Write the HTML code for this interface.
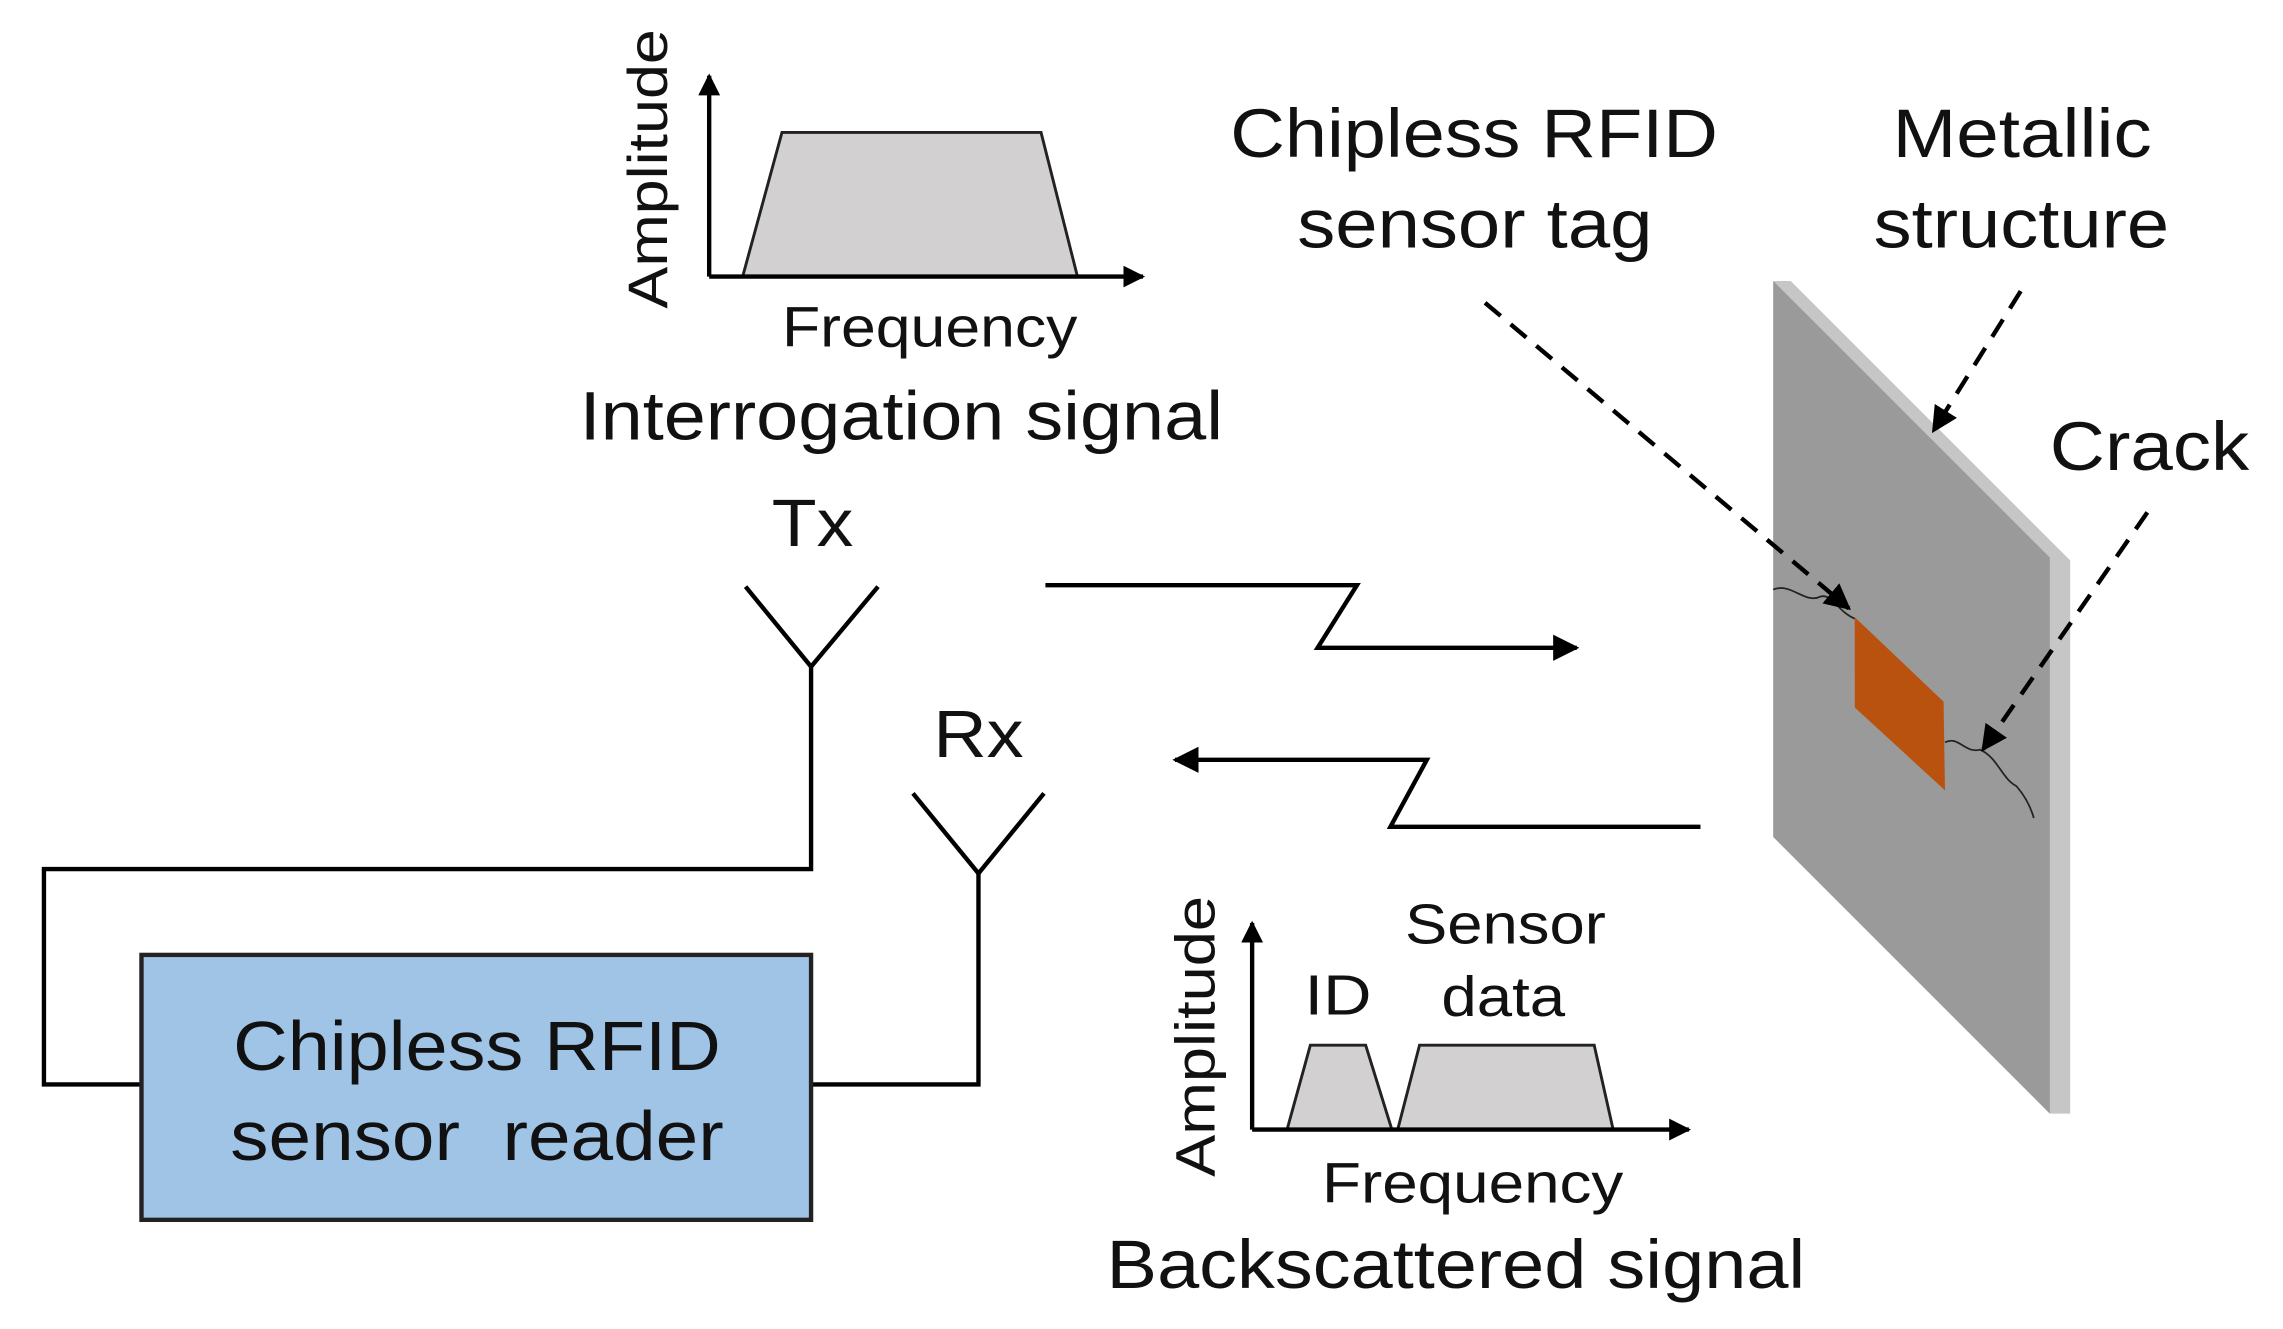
<!DOCTYPE html>
<html><head><meta charset="utf-8"><style>html,body{margin:0;padding:0;background:#fff}svg{display:block}text{font-family:"Liberation Sans",sans-serif;fill:#111}</style></head>
<body>
<svg width="2283" height="1329" viewBox="0 0 1568 913" xmlns="http://www.w3.org/2000/svg">
<defs>
<marker id="ah" viewBox="0 0 10 10" refX="9" refY="5" markerWidth="6" markerHeight="6" orient="auto"><path d="M0,0 L10,5 L0,10 z" fill="#000"/></marker>
<marker id="ah2" viewBox="0 0 10 10" refX="9" refY="5" markerWidth="5" markerHeight="5" orient="auto"><path d="M0,0 L10,5 L0,10 z" fill="#000"/></marker>
</defs>
<!-- top chart -->
<polygon points="510,190 537,91 715,91 740,190" fill="#d2d0d0" stroke="#222" stroke-width="2"/>
<line x1="487" y1="190" x2="487" y2="52" stroke="#000" stroke-width="3" marker-end="url(#ah2)"/>
<line x1="487" y1="190" x2="785" y2="190" stroke="#000" stroke-width="3" marker-end="url(#ah2)"/>
<text transform="translate(458,116) rotate(-90)" text-anchor="middle" font-size="38" textLength="192" lengthAdjust="spacingAndGlyphs">Amplitude</text>
<text x="537" y="238" font-size="39" textLength="203" lengthAdjust="spacingAndGlyphs">Frequency</text>
<text x="398" y="302" font-size="47" textLength="442" lengthAdjust="spacingAndGlyphs">Interrogation signal</text>
<text x="530" y="375" font-size="46" textLength="56" lengthAdjust="spacingAndGlyphs">Tx</text>
<!-- Tx antenna and wires -->
<polyline points="512,403 557,458 603,403" fill="none" stroke="#000" stroke-width="3"/>
<polyline points="557,458 557,597 30,597 30,745 97,745" fill="none" stroke="#000" stroke-width="3"/>
<text x="641" y="520" font-size="46" textLength="62" lengthAdjust="spacingAndGlyphs">Rx</text>
<polyline points="627,545 672,600 717,545" fill="none" stroke="#000" stroke-width="3"/>
<polyline points="672,600 672,745 557,745" fill="none" stroke="#000" stroke-width="3"/>
<!-- reader box -->
<rect x="97" y="656" width="460" height="182" fill="#a0c4e6" stroke="#222" stroke-width="3"/>
<text x="160" y="735" font-size="48" textLength="335" lengthAdjust="spacingAndGlyphs">Chipless RFID</text>
<text x="158" y="797" font-size="48" textLength="339" lengthAdjust="spacingAndGlyphs" xml:space="preserve">sensor  reader</text>
<!-- wireless arrows -->
<polyline points="718,402 932,402 905,445 1083,445" fill="none" stroke="#000" stroke-width="3" marker-end="url(#ah)"/>
<polyline points="1168,568 955,568 980,522 807,522" fill="none" stroke="#000" stroke-width="3" marker-end="url(#ah)"/>
<!-- plate -->
<polygon points="1218,193 1230,193 1422,385 1422,765 1408,765 1218,575" fill="#c6c6c6"/>
<polygon points="1218,193 1408,383 1408,765 1218,575" fill="#9a9a9a"/>
<path d="M1218,405 C1230,400 1240,415 1250,410 C1258,407 1262,420 1274,425" fill="none" stroke="#222" stroke-width="1.2"/>
<path d="M1336,510 C1345,505 1350,518 1360,515 C1372,520 1375,535 1385,540 C1392,548 1395,555 1397,562" fill="none" stroke="#222" stroke-width="1.2"/>
<polygon points="1274,424 1335,482 1336,543 1274,486" fill="#b9520f"/>
<!-- dashed pointers -->
<line x1="1020" y1="208" x2="1270" y2="418" stroke="#000" stroke-width="3" stroke-dasharray="14,9" marker-end="url(#ah)"/>
<line x1="1388" y1="200" x2="1328" y2="296" stroke="#000" stroke-width="3" stroke-dasharray="14,9" marker-end="url(#ah)"/>
<line x1="1475" y1="352" x2="1362" y2="515" stroke="#000" stroke-width="3" stroke-dasharray="14,9" marker-end="url(#ah)"/>
<text x="845" y="108" font-size="47" textLength="335" lengthAdjust="spacingAndGlyphs">Chipless RFID</text>
<text x="891" y="170" font-size="47" textLength="244" lengthAdjust="spacingAndGlyphs">sensor tag</text>
<text x="1300" y="108" font-size="47" textLength="178" lengthAdjust="spacingAndGlyphs">Metallic</text>
<text x="1287" y="170" font-size="47" textLength="203" lengthAdjust="spacingAndGlyphs">structure</text>
<text x="1408" y="323" font-size="47" textLength="137" lengthAdjust="spacingAndGlyphs">Crack</text>
<!-- bottom chart -->
<polygon points="884,776 900,718 938,718 956,776" fill="#d2d0d0" stroke="#222" stroke-width="2"/>
<polygon points="960,776 975,718 1095,718 1108,776" fill="#d2d0d0" stroke="#222" stroke-width="2"/>
<line x1="860" y1="776" x2="860" y2="634" stroke="#000" stroke-width="3" marker-end="url(#ah2)"/>
<line x1="860" y1="776" x2="1160" y2="776" stroke="#000" stroke-width="3" marker-end="url(#ah2)"/>
<text transform="translate(834,712) rotate(-90)" text-anchor="middle" font-size="38" textLength="193" lengthAdjust="spacingAndGlyphs">Amplitude</text>
<text x="896" y="697" font-size="39" textLength="46" lengthAdjust="spacingAndGlyphs">ID</text>
<text x="965" y="648" font-size="39" textLength="138" lengthAdjust="spacingAndGlyphs">Sensor</text>
<text x="990" y="698" font-size="39" textLength="85" lengthAdjust="spacingAndGlyphs">data</text>
<text x="908" y="826" font-size="39" textLength="207" lengthAdjust="spacingAndGlyphs">Frequency</text>
<text x="760" y="885" font-size="47" textLength="480" lengthAdjust="spacingAndGlyphs">Backscattered signal</text>
</svg>
</body></html>
